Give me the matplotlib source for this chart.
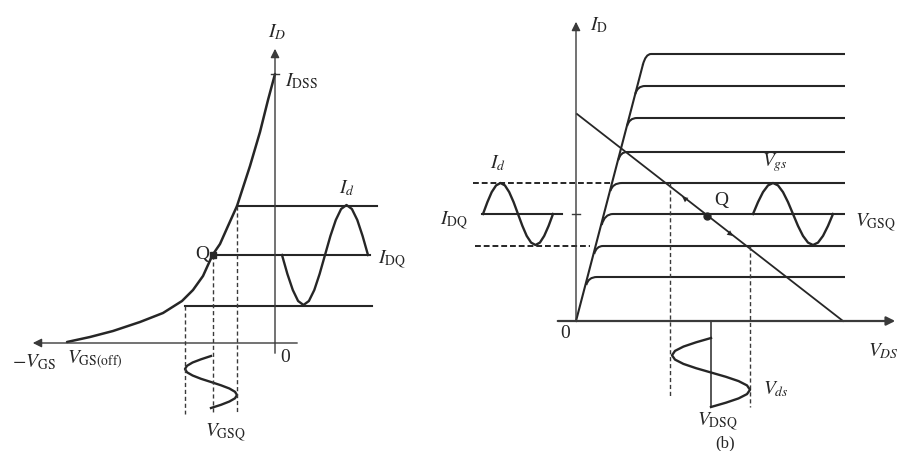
import matplotlib
matplotlib.use("Agg")
import matplotlib.pyplot as plt
from matplotlib.path import Path
from matplotlib.patches import PathPatch

plt.rcParams['mathtext.fontset'] = 'stix'
plt.rcParams['font.family'] = ['Liberation Serif', 'DejaVu Serif']

# ---------- left panel: transfer characteristic (V_GS, I_D) ----------
curve_v = [-20.8, -18.5, -16.2, -13.5, -11.2, -9.3, -8.2, -7.2, -6.25, -5.5, -4.7, -3.8, -2.5, -1.5, -0.7, 0.0]
curve_i = [0.1, 0.6, 1.2, 2.1, 3.0, 4.2, 5.3, 6.7, 8.8, 9.9, 11.7, 13.7, 17.7, 21.1, 24.3, 26.9]
i_dss = 26.9

# operating levels: (level, x start, x end)
left_levels = [13.7, 8.8, 3.7]
left_level_x0 = [-3.8, -6.25, -9.0]
left_level_x1 = [10.2, 9.5, 9.7]

q_left = (-6.25, 8.8)

# drain current signal i_d
id_wave_x = [0.70, 1.24, 1.78, 2.31, 2.85, 3.39, 3.93, 4.46, 5.00, 5.54, 6.08, 6.61, 7.15, 7.69, 8.23, 8.76, 9.30]
id_wave_y = [8.8, 6.9, 5.3, 4.2, 3.8, 4.2, 5.3, 6.9, 8.8, 10.7, 12.3, 13.4, 13.8, 13.4, 12.3, 10.7, 8.8]

# gate voltage signal v_gs (time runs downward)
vgs_wave_x = [-6.4, -7.4, -8.24, -8.8, -9.0, -8.8, -8.24, -7.4, -6.4, -5.4, -4.56, -4.0, -3.8, -4.0, -4.56, -5.4, -6.4]
vgs_wave_y = [-1.30, -1.63, -1.95, -2.28, -2.60, -2.93, -3.25, -3.58, -3.90, -4.23, -4.55, -4.88, -5.20, -5.53, -5.85, -6.18, -6.50]

left_dash_x = [-9.0, -6.25, -3.8]
left_dash_top = [3.7, 8.8, 13.7]
left_dash_bottom = [-7.1, -6.9, -7.1]

# ---------- right panel: output characteristic (V_DS, I_D) ----------
out_levels = [4.4, 7.5, 10.7, 13.8, 16.9, 20.3, 23.5, 26.7]
knee_x = [1.03, 1.82, 2.57, 3.44, 4.24, 5.11, 5.93, 6.68]
knee_y = [3.6, 6.7, 9.6, 13.0, 16.1, 19.5, 22.7, 25.6]
bend_x = [1.23, 2.03, 2.85, 3.65, 4.44, 5.32, 6.14, 6.96]
flat_x0 = [2.1, 2.7, 3.7, 4.6, 5.1, 6.1, 6.9, 7.5]
flat_x1 = 26.9

load_v = [0.1, 26.7]
load_i = [20.7, 0.0]
q_right = (13.1, 10.5)

right_dash_x = [9.4, 17.4]
right_dash_top = [13.8, 7.5]
right_dash_bottom = [-7.5, -8.6]
hdash_y = [13.8, 7.5]
hdash_x0 = [-10.3, -10.1]
hdash_x1 = [3.7, 1.4]

idq_y = 10.7
idq_x = [-9.4, -1.4]

id2_wave_x = [-9.3, -8.86, -8.43, -7.99, -7.55, -7.11, -6.68, -6.24, -5.8, -5.36, -4.93, -4.49, -4.05, -3.61, -3.18, -2.74, -2.3]
id2_wave_y = [10.7, 11.89, 12.89, 13.56, 13.8, 13.56, 12.89, 11.89, 10.7, 9.51, 8.51, 7.84, 7.6, 7.84, 8.51, 9.51, 10.7]

vgs2_wave_x = [17.7, 18.2, 18.7, 19.2, 19.7, 20.2, 20.7, 21.2, 21.7, 22.2, 22.7, 23.2, 23.7, 24.2, 24.7, 25.2, 25.7]
vgs2_wave_y = [10.7, 11.89, 12.89, 13.56, 13.8, 13.56, 12.89, 11.89, 10.7, 9.51, 8.51, 7.84, 7.6, 7.84, 8.51, 9.51, 10.7]

vds_axis_x = 13.5
vds_axis_y = [-0.1, -8.6]
vds_wave_x = [13.5, 12.01, 10.74, 9.9, 9.6, 9.9, 10.74, 12.01, 13.5, 14.99, 16.26, 17.1, 17.4, 17.1, 16.26, 14.99, 13.5]
vds_wave_y = [-1.7, -2.13, -2.56, -2.99, -3.43, -3.86, -4.29, -4.72, -5.15, -5.58, -6.01, -6.44, -6.88, -7.31, -7.74, -8.17, -8.6]

ink = '#262626'
thin = '#3a3a3a'
fs = 14

fig = plt.figure(figsize=(9.09, 4.52), dpi=100)
fig.patch.set_facecolor('white')

# ===== left =====
ax = fig.add_axes([0, 0, 450/909, 1])
ax.set_xlim(-27.5, 17.5)
ax.set_ylim(-10.8, 34.4)
ax.axis('off')

ax.annotate('', xy=(-24.5, 0), xytext=(2.5, 0),
            arrowprops=dict(arrowstyle='-|>', color=thin, lw=1.0, mutation_scale=13))
ax.annotate('', xy=(0, 29.7), xytext=(0, -1.3),
            arrowprops=dict(arrowstyle='-|>', color=thin, lw=1.0, mutation_scale=13))
ax.plot([-0.4, 0.4], [i_dss, i_dss], color=thin, lw=1.0)

ax.plot(curve_v, curve_i, color=ink, lw=1.8, solid_capstyle='round', solid_joinstyle='round')
for y, x0, x1 in zip(left_levels, left_level_x0, left_level_x1):
    ax.plot([x0, x1], [y, y], color=ink, lw=1.5)
ax.plot(id_wave_x, id_wave_y, color=ink, lw=1.7)
ax.plot(vgs_wave_x, vgs_wave_y, color=ink, lw=1.7)
for x, t, b in zip(left_dash_x, left_dash_top, left_dash_bottom):
    ax.plot([x, x], [t, b], color=thin, lw=1.0, ls=(0, (3, 2)))
ax.plot(*q_left, marker='s', ms=4.5, color=ink)

ax.text(0.2, 31.2, r'$I_D$', fontsize=fs, color=ink, ha='center', va='center')
ax.text(1.0, 26.3, r'$I_{\rm DSS}$', fontsize=fs, color=ink, ha='left', va='center')
ax.text(7.2, 14.6, r'$I_d$', fontsize=fs, color=ink, ha='center', va='bottom')
ax.text(10.3, 8.4, r'$I_{\rm DQ}$', fontsize=fs, color=ink, ha='left', va='center')
ax.text(-6.6, 8.9, 'Q', fontsize=fs, color=ink, ha='right', va='center')
ax.text(-26.3, -1.8, r'$-V_{\rm GS}$', fontsize=fs, color=ink, ha='left', va='center')
ax.text(-20.8, -1.6, r'$V_{\rm GS(off)}$', fontsize=fs, color=ink, ha='left', va='center')
ax.text(0.5, -1.4, '0', fontsize=fs, color=ink, ha='left', va='center')
ax.text(-5.0, -8.9, r'$V_{\rm GSQ}$', fontsize=fs, color=ink, ha='center', va='center')

# ===== right =====
bx = fig.add_axes([450/909, 0, 459/909, 1])
bx.set_xlim(-12.6, 33.3)
bx.set_ylim(-13.0, 32.2)
bx.axis('off')

bx.annotate('', xy=(32.2, 0), xytext=(-2.1, 0),
            arrowprops=dict(arrowstyle='-|>', color=thin, lw=1.6, mutation_scale=13))
bx.annotate('', xy=(0, 30.2), xytext=(0, -0.3),
            arrowprops=dict(arrowstyle='-|>', color=thin, lw=1.0, mutation_scale=13))
bx.plot([-0.4, 0.4], [idq_y, idq_y], color=thin, lw=1.0)

# ohmic region line, then each curve bends into its saturation level
bx.plot([0, knee_x[-1]], [0, knee_y[-1]], color=ink, lw=1.5)
for lv, kx, ky, cx, fx in zip(out_levels, knee_x, knee_y, bend_x, flat_x0):
    path = Path([(kx, ky), (cx, lv), (fx, lv), (flat_x1, lv)],
                [Path.MOVETO, Path.CURVE3, Path.CURVE3, Path.LINETO])
    bx.add_patch(PathPatch(path, fill=False, edgecolor=ink, lw=1.5))

bx.plot(load_v, load_i, color=ink, lw=1.3)
bx.plot(*q_right, marker='o', ms=5, color=ink)
bx.annotate('', xy=(10.4, 12.6), xytext=(11.0, 12.14),
            arrowprops=dict(arrowstyle='-|>', color=ink, lw=0.01, mutation_scale=10))
bx.annotate('', xy=(15.9, 8.33), xytext=(15.3, 8.8),
            arrowprops=dict(arrowstyle='-|>', color=ink, lw=0.01, mutation_scale=10))

for x, t, b in zip(right_dash_x, right_dash_top, right_dash_bottom):
    bx.plot([x, x], [t, b], color=thin, lw=1.0, ls=(0, (3, 2)))
for y, x0, x1 in zip(hdash_y, hdash_x0, hdash_x1):
    bx.plot([x0, x1], [y, y], color=ink, lw=1.4, ls=(0, (3, 1.5)))
bx.plot(idq_x, [idq_y, idq_y], color=ink, lw=1.5)

bx.plot(id2_wave_x, id2_wave_y, color=ink, lw=1.7)
bx.plot(vgs2_wave_x, vgs2_wave_y, color=ink, lw=1.7)
bx.plot([vds_axis_x, vds_axis_x], vds_axis_y, color=thin, lw=1.2)
bx.plot(vds_wave_x, vds_wave_y, color=ink, lw=1.7)

bx.text(1.4, 29.7, r'$I_{\rm D}$', fontsize=fs, color=ink, ha='left', va='center')
bx.text(-1.1, -1.2, '0', fontsize=fs, color=ink, ha='center', va='center')
bx.text(30.7, -2.9, r'$V_{DS}$', fontsize=fs, color=ink, ha='center', va='center')
bx.text(-7.8, 14.9, r'$I_d$', fontsize=fs, color=ink, ha='center', va='bottom')
bx.text(-10.8, 10.1, r'$I_{\rm DQ}$', fontsize=fs, color=ink, ha='right', va='center')
bx.text(13.8, 12.2, 'Q', fontsize=fs, color=ink, ha='left', va='center')
bx.text(19.9, 14.8, r'$V_{gs}$', fontsize=fs, color=ink, ha='center', va='bottom')
bx.text(27.9, 9.9, r'$V_{\rm GSQ}$', fontsize=fs, color=ink, ha='left', va='center')
bx.text(18.7, -6.7, r'$V_{ds}$', fontsize=fs, color=ink, ha='left', va='center')
bx.text(14.1, -10.0, r'$V_{\rm DSQ}$', fontsize=fs, color=ink, ha='center', va='center')
bx.text(14.9, -12.9, '(b)', fontsize=12, color=ink, ha='center', va='bottom')

fig.savefig('out.png', dpi=100, facecolor='white')
